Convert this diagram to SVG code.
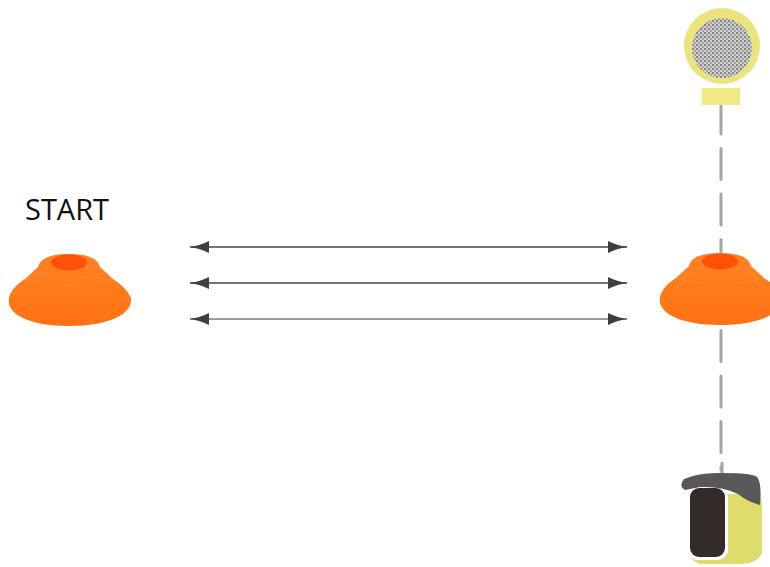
<svg xmlns="http://www.w3.org/2000/svg" width="770" height="567" viewBox="0 0 770 567">
  <style>
    .label { font-family: "Open Sans", "Liberation Sans", sans-serif; font-size: 29px; fill: #111; }
    .arrow { stroke: #454545; stroke-width: 1.3; fill: none; }
    .arrow-light { stroke: #9a9a9a; stroke-width: 2; fill: none; }
    .guide { stroke: #a6a6a6; stroke-width: 3; stroke-linecap: round; stroke-dasharray: 31 14.5; fill: none; }
    .cone-body { fill: url(#coneFill); }
    .cone-hole { fill: #ff5206; }
  </style>
  <defs>
    <linearGradient id="coneFill" x1="0" y1="0" x2="0" y2="1">
      <stop offset="0" stop-color="#ff8226"/>
      <stop offset="0.6" stop-color="#ff7a18"/>
      <stop offset="1" stop-color="#ff7012"/>
    </linearGradient>
    <pattern id="mesh" width="4" height="4" patternUnits="userSpaceOnUse">
      <rect width="4" height="4" fill="#cfcfcf"/>
      <rect width="2" height="2" fill="#858585"/>
      <rect x="2" y="2" width="2" height="2" fill="#a2a2a2"/>
    </pattern>
    <marker id="head" viewBox="0 0 20 12" refX="19" refY="6" markerWidth="20" markerHeight="12" markerUnits="userSpaceOnUse" orient="auto-start-reverse">
      <path d="M0,0 Q10,5 20,6 Q10,7 0,12 Z" fill="#3f3f3f"/>
    </marker>
    <!-- shared disc-cone shape, origin at the centre of the top hole -->
    <g id="cone">
      <path class="cone-body" d="M-60,36 C-58,28 -52,22 -44,17 L-31,5 C-29,-4 -18,-8 0,-8 C18,-8 29,-4 31,5 L44,17 C52,22 58,28 62,36 C64,52 40,64 0,64 C-40,64 -63,52 -60,36 Z"/>
      <path d="M-44,17 Q0,30 44,17" fill="none" stroke="#ff9240" stroke-width="1" opacity="0.5"/>
      <path d="M-36,11 Q0,22 36,11" fill="none" stroke="#ff9240" stroke-width="1" opacity="0.5"/>
      <ellipse class="cone-hole" cx="0" cy="0.5" rx="18" ry="8"/>
    </g>
  </defs>

  <rect width="770" height="567" fill="#ffffff"/>

  <g id="connectors">
    <line class="guide" x1="721" y1="103" x2="721" y2="470"/>
    <line class="arrow" x1="190" y1="247" x2="627" y2="247" marker-start="url(#head)" marker-end="url(#head)"/>
    <line class="arrow" x1="190" y1="283" x2="627" y2="283" marker-start="url(#head)" marker-end="url(#head)"/>
    <line class="arrow-light" x1="190" y1="319" x2="627" y2="319" marker-start="url(#head)" marker-end="url(#head)"/>
  </g>

  <g id="start-label">
    <text class="label" x="25" y="220">START</text>
  </g>

  <g id="cone-start">
    <use href="#cone" x="69" y="262"/>
  </g>

  <g id="cone-end">
    <use href="#cone" x="720" y="261"/>
  </g>

  <g id="ball">
    <rect x="702" y="88" width="38" height="17" fill="#f1ea84"/>
    <circle cx="722" cy="46" r="38" fill="#ebe37c"/>
    <circle cx="722" cy="48" r="30" fill="url(#mesh)"/>
  </g>

  <g id="device">
    <line x1="722" y1="462" x2="722" y2="476" stroke="#a6a6a6" stroke-width="3"/>
    <path d="M690,494 L755,494 C760,494 762,500 762,506 L762,553 Q758,563 742,564 L700,564 Q688,560 688,548 Z" fill="#dedc6a"/>
    <rect x="687" y="485" width="41" height="75" rx="10" fill="#ffffff"/>
    <rect x="690" y="488" width="35" height="69" rx="9" fill="#332a2a"/>
    <path d="M684,479 Q700,472 722,473 Q752,473 757,477 Q762,483 760,505 Q748,502 738,494 Q722,486 700,487 L685,490 Q678,486 684,479 Z" fill="#5a5758"/>
  </g>
</svg>
